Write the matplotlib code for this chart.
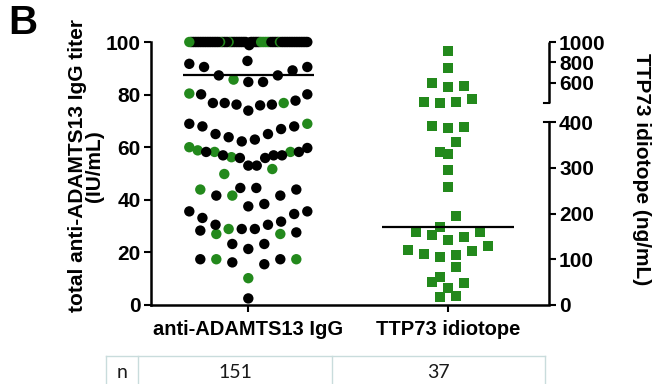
import numpy as np
import matplotlib
matplotlib.use("Agg")
import matplotlib.pyplot as plt
from matplotlib.lines import Line2D

plt.rcParams['font.family'] = ['Liberation Sans', 'DejaVu Sans']
plt.rcParams['font.weight'] = 'bold'

# ---------------- data ----------------
groups = ["anti-ADAMTS13 IgG", "TTP73 idiotope"]
n_counts = ["151", "37"]

# anti-ADAMTS13 IgG titer (IU/mL); values >=100 are plotted at the top (100)
igg_titer = [
    100, 100, 100, 100, 100, 100, 100, 100, 100, 100, 100, 100, 100, 100, 100, 100, 100,
    100, 100, 100, 100, 100, 100, 100, 100, 100, 100, 100, 100, 100, 100, 100, 100, 100,
    100, 100, 100, 100, 100, 100, 100, 100, 100, 100, 100, 100, 100, 100, 100, 100, 100,
    100, 100, 100, 100, 100, 100, 100, 100, 100, 100, 100, 100, 100, 100, 100, 100, 100,
    90.5, 92.8, 91.7, 90.5, 89.2, 87.3, 85.7, 84.8, 84.8, 87.3, 98.8,
    80.1, 77.7, 76.8, 76.2, 76.2, 73.9, 75.9, 76.8, 76.8, 80.4, 80.1,
    68.9, 67.9, 65.0, 63.8, 65.0, 66.9, 67.9, 68.9,
    62.9, 62.2, 59.7, 58.8, 56.2, 58.2, 58.2, 56.9, 56.9, 58.2, 58.2, 56.9, 60.0, 55.9, 55.9,
    53.0, 53.0, 49.8, 51.7,
    44.5, 43.9, 41.6, 41.6, 41.6, 43.9, 44.5,
    37.5, 35.6, 33.1, 34.6, 35.6, 38.4,
    31.7, 30.5, 28.9, 28.3, 27.0, 27.0, 27.6, 28.9, 28.9, 30.5,
    23.2, 21.3, 23.2,
    17.4, 15.5, 17.4, 16.2, 17.4, 17.4,
    10.2, 2.5,
]
# 1 = TTP73 idiotope positive (green), 0 = negative (black)
igg_idiotope_pos = [
    0, 0, 0, 0, 0, 0, 0, 0, 0, 0, 0, 0, 0, 1, 0, 1, 0,
    1, 0, 1, 1, 1, 0, 1, 0, 0, 0, 0, 0, 0, 1, 0, 0, 0,
    0, 1, 0, 0, 0, 0, 0, 0, 0, 0, 0, 0, 0, 0, 0, 0, 0,
    0, 0, 0, 0, 0, 0, 0, 0, 0, 0, 0, 0, 0, 0, 0, 1, 0,
    0, 0, 0, 0, 0, 0, 1, 0, 0, 0, 0,
    0, 0, 0, 0, 0, 0, 0, 1, 0, 1, 0,
    0, 0, 0, 0, 0, 0, 0, 1,
    0, 0, 0, 1, 1, 1, 1, 0, 0, 0, 0, 0, 1, 0, 0,
    0, 0, 1, 1,
    0, 0, 1, 0, 0, 1, 0,
    0, 0, 0, 0, 0, 0,
    0, 0, 0, 0, 1, 1, 0, 0, 1, 0,
    0, 0, 0,
    0, 0, 1, 0, 1, 0,
    1, 0,
]

# TTP73 idiotope (ng/mL)
ttp73_idiotope = [
    915, 748, 555, 594, 570, 413, 403, 413, 436,
    390, 386, 391, 357, 330, 335, 295, 257, 195,
    171, 159, 149, 142, 153, 160, 120, 111, 104, 109, 118, 129,
    82, 62, 50, 37, 47, 17, 20,
]

left_ticks = [0, 20, 40, 60, 80, 100]
right_ticks = [0, 100, 200, 300, 400, 600, 800, 1000]

GREEN = '#23891c'
BLACK = '#000000'

# ---------------- broken right-axis scale ----------------
LOW_TOP = 183.0     # px height of 0..400 segment
UP_BOT = 202.0      # px height where upper segment (400..1000) starts
UP_TOP = 263.0


def fwd(v):
    v = np.asarray(v, float)
    return np.where(v <= 400, v * LOW_TOP / 400.0,
                    UP_BOT + (v - 400.0) * (UP_TOP - UP_BOT) / 600.0)


def inv(f):
    f = np.asarray(f, float)
    lo = f * 400.0 / LOW_TOP
    hi = 400.0 + (f - UP_BOT) * 600.0 / (UP_TOP - UP_BOT)
    return np.where(f <= LOW_TOP, lo, np.where(f >= UP_BOT, hi, 400.0))


# ---------------- figure ----------------
W, H = 654, 384
fig = plt.figure(figsize=(W / 100, H / 100), dpi=100)
L, R, B, T = 150.7, 549.3, 305.0, 42.0
ax = fig.add_axes([L / W, 1 - B / H, (R - L) / W, (B - T) / H])
ax.set_xlim(-0.4895, 1.5095)
ax.set_ylim(0, 100)
for s in ['top', 'right']:
    ax.spines[s].set_visible(False)
for s in ['left', 'bottom']:
    ax.spines[s].set_linewidth(1.8)
ax.set_yticks(left_ticks)
ax.set_yticklabels([str(t) for t in left_ticks])
ax.set_xticks([0, 1])
ax.set_xticklabels(groups)
ax.tick_params(axis='y', direction='out', length=5, width=1.5, labelsize=15, pad=2)
ax.tick_params(axis='x', direction='out', length=5, width=1.5, labelsize=14.5, pad=6)

ax2 = ax.twinx()
ax2.set_yscale('function', functions=(fwd, inv))
ax2.set_ylim(0, 1000)
for s in ax2.spines.values():
    s.set_visible(False)
ax2.set_yticks(right_ticks)
ax2.set_yticklabels([str(t) for t in right_ticks])
ax2.tick_params(axis='y', direction='out', length=5, width=1.5, labelsize=15, pad=2)

# broken right spine
tr = ax2.get_yaxis_transform()
cap = 5.0 / (R - L)
for seg in ([0, 400], [400.001, 1000]):
    ax2.add_line(Line2D([1, 1], seg, transform=tr, color='k', lw=1.8, clip_on=False,
                        solid_capstyle='butt'))
ax2.add_line(Line2D([1 - cap, 1], [400, 400], transform=tr, color='k', lw=1.5, clip_on=False))
ax2.add_line(Line2D([1 - cap, 1], [400.001, 400.001], transform=tr, color='k', lw=1.5,
                    clip_on=False))


# ---------------- scatter layout (Prism-like rows) ----------------
def row_offsets(yd, spacing, maxwidth, row_h):
    yd = np.asarray(yd, float)
    order = np.argsort(-yd, kind='stable')
    rows, cur, start = [], [], None
    for i in order:
        if cur and start - yd[i] > row_h:
            rows.append(cur)
            cur = []
        if not cur:
            start = yd[i]
        cur.append(i)
    rows.append(cur)
    off = np.zeros(len(yd))
    for row in rows:
        row = np.array(row)
        row = row[np.argsort(yd[row], kind='stable')]
        n = len(row)
        s = spacing if n < 2 else min(spacing, maxwidth / (n - 1))
        shift = -0.5 if n % 2 == 0 else 0.0
        for k, i in enumerate(row):
            slot = 0 if k == 0 else ((k + 1) // 2 if k % 2 else -(k // 2))
            off[i] = (slot + shift) * s
    return off


pxu = ax.transData.transform((1, 0))[0] - ax.transData.transform((0, 0))[0]

igg = np.array(igg_titer, float)
yd_igg = ax.transData.transform(np.column_stack([np.zeros_like(igg), igg]))[:, 1]
x_igg = 0 + row_offsets(yd_igg, 16.0, 118.0, 19.0) / pxu
col_igg = [GREEN if p else BLACK for p in igg_idiotope_pos]
ax.scatter(x_igg, igg, s=56, c=col_igg, marker='o', linewidths=0, zorder=3, clip_on=False)
ax.hlines(np.median(igg), -0.33, 0.33, color='k', lw=1.6, zorder=4)

ttp = np.array(ttp73_idiotope, float)
yd_ttp = ax2.transData.transform(np.column_stack([np.ones_like(ttp), ttp]))[:, 1]
x_ttp = 1 + row_offsets(yd_ttp, 16.0, 100.0, 12.0) / pxu
ax2.scatter(x_ttp, ttp, s=54, c=GREEN, marker='s', linewidths=0, zorder=3, clip_on=False)
ax2.hlines(np.median(ttp), 1 - 0.33, 1 + 0.33, color='k', lw=1.6, zorder=4)

# ---------------- labels ----------------
fig.text(86 / W, 1 - 166 / H, "total anti-ADAMTS13 IgG titer\n(IU/mL)", rotation=90,
         ha='center', va='center', fontsize=15, fontweight='bold', linespacing=0.9)
fig.text(641 / W, 1 - 169 / H, "TTP73 idiotope (ng/mL)", rotation=270,
         ha='center', va='center', fontsize=15, fontweight='bold')
fig.text(23 / W, 1 - 23 / H, "B", ha='center', va='center', fontsize=29, fontweight='bold')

# ---------------- table ----------------
tcol = '#c9dcdc'
tl, d1, d2, tr_ = 105.7, 138.3, 331.7, 545.0
ttop = 356.0
fig.add_artist(Line2D([tl / W, tr_ / W], [1 - ttop / H] * 2, color=tcol, lw=1.0))
for xv in (tl, d1, d2, tr_):
    fig.add_artist(Line2D([xv / W] * 2, [1 - ttop / H, 0], color=tcol, lw=1.0))
ty = 1 - 373 / H
tfont = dict(family=['Lato', 'DejaVu Sans'], fontweight='normal', fontsize=14,
             ha='center', va='center', color='#1a1a1a')
fig.text((tl + d1) / 2 / W, ty, "n", **tfont)
fig.text((d1 + d2) / 2 / W, ty, n_counts[0], **tfont)
fig.text((d2 + tr_) / 2 / W, ty, n_counts[1], **tfont)

fig.savefig("out.png", dpi=100)
